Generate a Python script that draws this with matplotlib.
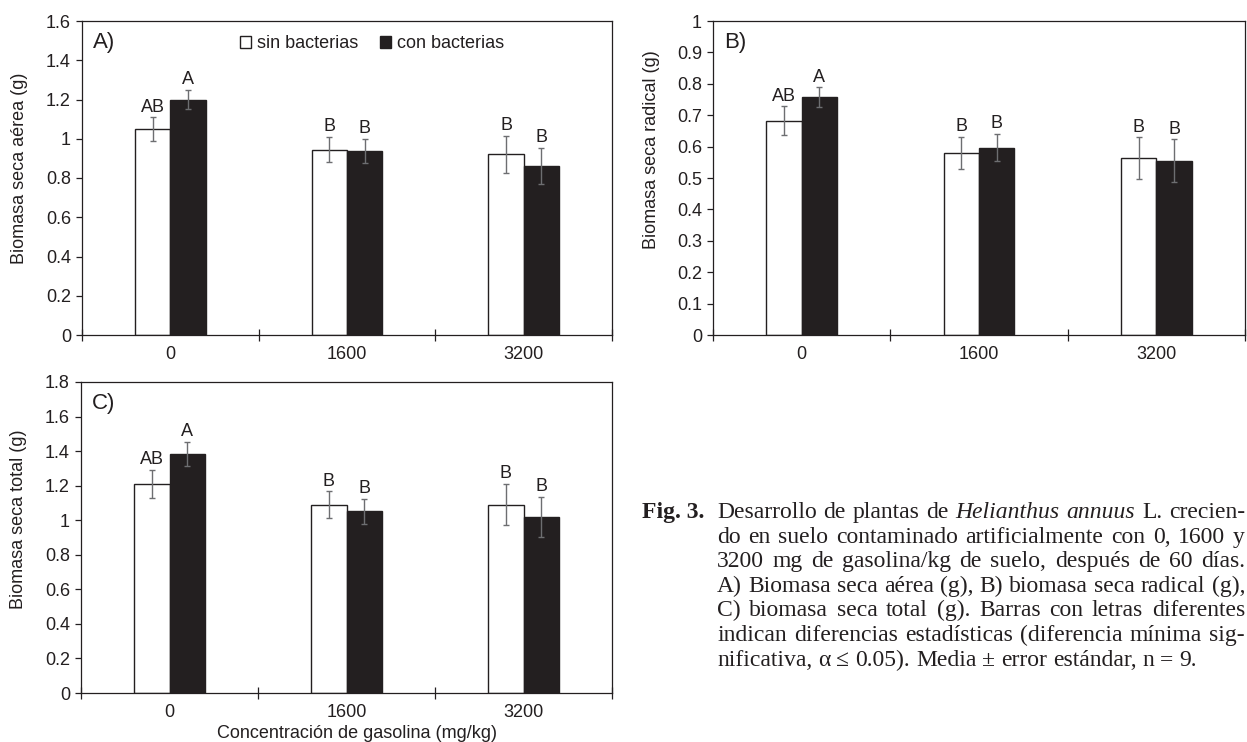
import numpy as np
import matplotlib
matplotlib.use('Agg')
import matplotlib.pyplot as plt
from matplotlib.patches import Patch
from matplotlib.ticker import FuncFormatter

plt.rcParams['font.family'] = ['Liberation Sans', 'DejaVu Sans']

#%% data
conc = ['0', '1600', '3200']

aerea_sin = [1.05, 0.945, 0.92]
aerea_sin_err = [0.06, 0.065, 0.094]
aerea_con = [1.20, 0.937, 0.862]
aerea_con_err = [0.05, 0.063, 0.093]

radical_sin = [0.682, 0.58, 0.564]
radical_sin_err = [0.046, 0.051, 0.066]
radical_con = [0.757, 0.597, 0.555]
radical_con_err = [0.032, 0.044, 0.068]

total_sin = [1.21, 1.09, 1.09]
total_sin_err = [0.083, 0.077, 0.12]
total_con = [1.383, 1.052, 1.02]
total_con_err = [0.07, 0.072, 0.117]

letras_sin = ['AB', 'B', 'B']
letras_con = ['A', 'B', 'B']

caption = [
    'Desarrollo de plantas de Helianthus annuus L. crecien-',
    'do en suelo contaminado artificialmente con 0, 1600 y',
    '3200 mg de gasolina/kg de suelo, después de 60 días.',
    'A) Biomasa seca aérea (g), B) biomasa seca radical (g),',
    'C) biomasa seca total (g). Barras con letras diferentes',
    'indican diferencias estadísticas (diferencia mínima sig-',
    'nificativa, α ≤ 0.05). Media ± error estándar, n = 9.',
]
italic_words = ['Helianthus', 'annuus']

ink = '#231f20'
grey = '#6d6e71'
W, H = 1247, 742

fig = plt.figure(figsize=(W / 100, H / 100), dpi=100)


def add_axes_px(left, top, right, bottom):
    return fig.add_axes([left / W, 1 - bottom / H, (right - left) / W, (bottom - top) / H])


def draw_panel(ax, sin, sin_err, con, con_err, ymax, ystep, tag, ylabel, ylab_y):
    x = np.arange(len(conc)) + 0.5
    ax.bar(x - 0.1, sin, 0.2, color='white', edgecolor=ink, linewidth=1.0, zorder=2)
    ax.bar(x + 0.1, con, 0.2, color=ink, edgecolor=ink, linewidth=1.0, zorder=2)
    ax.errorbar(x - 0.1, sin, yerr=sin_err, fmt='none', ecolor=grey,
                elinewidth=1.0, capsize=2.2, capthick=1.0, zorder=3)
    ax.errorbar(x + 0.1, con, yerr=con_err, fmt='none', ecolor=grey,
                elinewidth=1.0, capsize=2.2, capthick=1.0, zorder=3)
    for xi, v, e, t in zip(x - 0.1, sin, sin_err, letras_sin):
        ax.annotate(t, (xi, v + e), xytext=(0, 4), textcoords='offset points',
                    ha='center', va='baseline', fontsize=13, color=ink)
    for xi, v, e, t in zip(x + 0.1, con, con_err, letras_con):
        ax.annotate(t, (xi, v + e), xytext=(0, 4), textcoords='offset points',
                    ha='center', va='baseline', fontsize=13, color=ink)

    ax.set_xlim(0, len(conc))
    ax.set_ylim(0, ymax)
    ax.set_yticks(np.arange(0, ymax + 1e-9, ystep))
    ax.yaxis.set_major_formatter(FuncFormatter(lambda v, p: '%g' % round(v, 2)))
    ax.set_xticks(np.arange(len(conc) + 1))
    ax.set_xticklabels([])
    ax.set_xticks(x, minor=True)
    ax.set_xticklabels(conc, minor=True)
    ax.tick_params(axis='x', which='major', direction='inout', length=9, width=0.9, color=ink)
    ax.tick_params(axis='x', which='minor', length=0, pad=8, labelsize=13, labelcolor=ink)
    ax.tick_params(axis='y', direction='out', length=4, width=0.9, pad=4,
                   labelsize=13, color=ink, labelcolor=ink)
    for s in ax.spines.values():
        s.set_color(ink)
        s.set_linewidth(0.9)
    ax.set_ylabel(ylabel, fontsize=13, color=ink, ha='center', va='center')
    ax.yaxis.set_label_coords(-0.118, ylab_y)
    ax.text(0.02, 0.965, tag, transform=ax.transAxes, fontsize=16, va='top', color=ink)


axA = add_axes_px(82, 21, 612, 335)
axB = add_axes_px(713, 21, 1245, 335)
axC = add_axes_px(81, 382, 612, 693)

draw_panel(axA, aerea_sin, aerea_sin_err, aerea_con, aerea_con_err, 1.6, 0.2,
           'A)', 'Biomasa seca aérea (g)', 0.53)
draw_panel(axB, radical_sin, radical_sin_err, radical_con, radical_con_err, 1.0, 0.1,
           'B)', 'Biomasa seca radical (g)', 0.59)
draw_panel(axC, total_sin, total_sin_err, total_con, total_con_err, 1.8, 0.2,
           'C)', 'Biomasa seca total (g)', 0.56)

axB.yaxis.set_label_coords(-0.115, 0.59)
axC.set_xlabel('Concentración de gasolina (mg/kg)', fontsize=13, color=ink, va='center')
axC.xaxis.set_label_coords(0.52, -0.129)

handles = [Patch(facecolor='white', edgecolor=ink, linewidth=1.0, label='sin bacterias'),
           Patch(facecolor=ink, edgecolor=ink, linewidth=1.0, label='con bacterias')]
axA.legend(handles=handles, loc='center left', bbox_to_anchor=(0.298, 0.927), ncol=2,
           frameon=False, fontsize=13, handlelength=0.6, handleheight=0.6,
           handletextpad=0.35, columnspacing=1.2, borderpad=0, borderaxespad=0,
           labelcolor=ink)

#%% caption, justified by hand
renderer = fig.canvas.get_renderer()
cap_size = 17
x_left, x_right = 717, 1245
base0, step = 518, 24.6
serif = ['Liberation Serif', 'DejaVu Serif']

fig.text(642 / W, 1 - base0 / H, 'Fig. 3.', fontsize=cap_size, fontweight='bold',
         family=serif, va='baseline', color=ink)

for i, line in enumerate(caption):
    y = 1 - (base0 + i * step) / H
    words = line.split(' ')
    texts = []
    for w in words:
        style = 'italic' if w in italic_words else 'normal'
        texts.append(fig.text(0, y, w, fontsize=cap_size, family=serif, style=style,
                              va='baseline', color=ink))
    widths = [t.get_window_extent(renderer).width for t in texts]
    if i < len(caption) - 1:
        gap = (x_right - x_left - sum(widths)) / (len(words) - 1)
    else:
        gap = 0.25 * cap_size * 100 / 72
    xpos = x_left
    for t, wd in zip(texts, widths):
        t.set_x(xpos / W)
        xpos += wd + gap

fig.savefig('out.png', dpi=100)
